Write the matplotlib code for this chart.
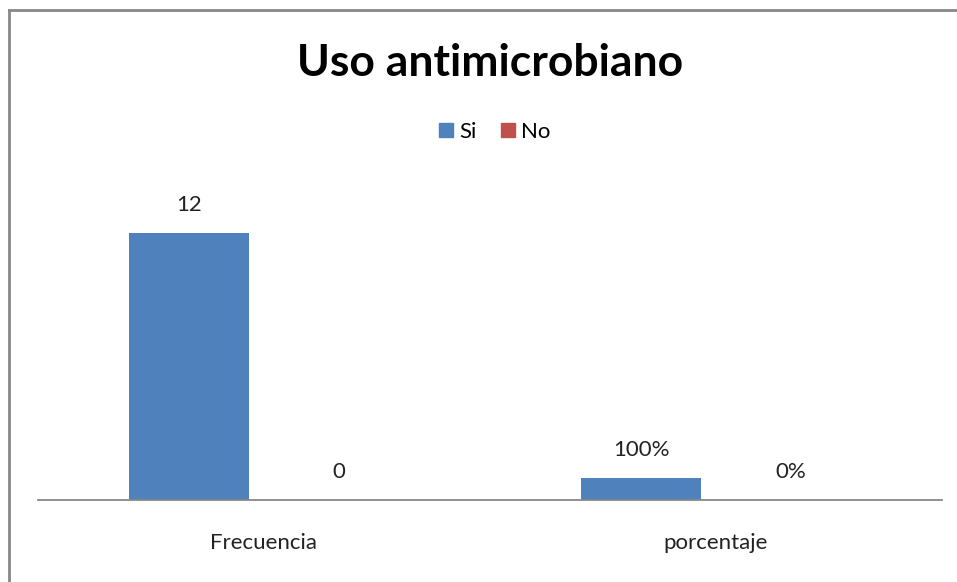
import matplotlib
matplotlib.use('Agg')
import matplotlib.pyplot as plt
from matplotlib.lines import Line2D
from matplotlib.patches import Patch
import numpy as np

plt.rcParams['font.family'] = ['Lato', 'DejaVu Sans']

# data
categories = ['Frecuencia', 'porcentaje']
series_names = ['Si', 'No']
si_values = [12, 1]
no_values = [0, 0]
si_labels = ['12', '100%']
no_labels = ['0', '0%']
colors = ['#4F81BD', '#C0504D']

fig = plt.figure(figsize=(9.57, 5.82), dpi=100)
ax = fig.add_axes([38 / 957, 1 - 500 / 582, 904 / 957, 334 / 582])

x = np.arange(len(categories))
bw = 120 / 452
off = 75 / 452

bars_si = ax.bar(x - off, si_values, bw, color=colors[0])
bars_no = ax.bar(x + off, no_values, bw, color=colors[1])

for bars, labels in [(bars_si, si_labels), (bars_no, no_labels)]:
    for b, lab in zip(bars, labels):
        ax.annotate(lab, (b.get_x() + b.get_width() / 2, b.get_height()),
                    xytext=(0, 20), textcoords='offset points',
                    ha='center', va='center', fontsize=16, color='#222222')

ax.set_xlim(-0.5, 1.5)
ax.set_ylim(0, 15)
ax.set_yticks([])
ax.set_xticks(x)
ax.set_xticklabels(categories, fontsize=16, color='#222222')
ax.tick_params(axis='x', length=0, pad=24)
for s in ['top', 'right', 'left']:
    ax.spines[s].set_visible(False)
ax.spines['bottom'].set_color('#888888')
ax.spines['bottom'].set_linewidth(1.3)

fig.text(490 / 957, 1 - 63 / 582, 'Uso antimicrobiano', ha='center', va='center',
         fontsize=32, fontweight='bold', color='black')

handles = [Patch(color=c, label=n) for c, n in zip(colors, series_names)]
fig.legend(handles=handles, loc='center', bbox_to_anchor=(495 / 957, 1 - 132 / 582),
           ncol=2, frameon=False, fontsize=16, handlelength=0.6, handleheight=0.6,
           handletextpad=0.3, columnspacing=1.1)

# chart frame (only top and left edges visible in the image)
fig.add_artist(Line2D([9 / 957, 9 / 957], [0, 1 - 10 / 582], transform=fig.transFigure,
                      color='#888888', lw=2))
fig.add_artist(Line2D([9 / 957, 1], [1 - 10 / 582, 1 - 10 / 582], transform=fig.transFigure,
                      color='#888888', lw=2))

fig.savefig('out.png', dpi=100)
